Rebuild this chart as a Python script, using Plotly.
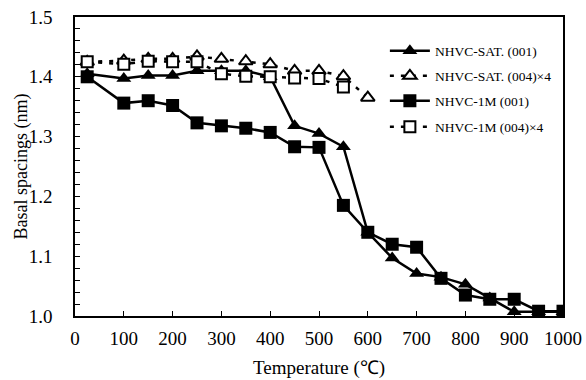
import plotly.graph_objects as go

temps = [25, 100, 150, 200, 250, 300, 350, 400, 450, 500, 550, 600, 650, 700, 750, 800, 850, 900, 950, 1000]
sat_001 = [1.405, 1.397, 1.402, 1.402, 1.41, 1.41, 1.41, 1.40, 1.318, 1.305, 1.283, 1.14, 1.097, 1.071, 1.065, 1.053, 1.03, 1.007, 1.007, 1.007]
sat_004_t = [25, 100, 150, 200, 250, 300, 350, 400, 450, 500, 550, 600]
sat_004 = [1.425, 1.427, 1.43, 1.43, 1.434, 1.43, 1.426, 1.421, 1.41, 1.41, 1.401, 1.365]
m1_001 = [1.40, 1.356, 1.36, 1.352, 1.323, 1.318, 1.314, 1.307, 1.283, 1.282, 1.185, 1.14, 1.12, 1.115, 1.063, 1.035, 1.028, 1.028, 1.008, 1.008]
m1_004_t = [25, 100, 150, 200, 250, 300, 350, 400, 450, 500, 550]
m1_004 = [1.425, 1.421, 1.426, 1.425, 1.425, 1.405, 1.401, 1.40, 1.398, 1.397, 1.383]

names = ["NHVC-SAT. (001)", "NHVC-SAT. (004)×4", "NHVC-1M (001)", "NHVC-1M (004)×4"]
x_ticks = [0, 100, 200, 300, 400, 500, 600, 700, 800, 900, 1000]
y_ticks = [1.0, 1.1, 1.2, 1.3, 1.4, 1.5]

FONT = "Liberation Serif, Times New Roman, serif"

fig = go.Figure()
fig.add_trace(go.Scatter(x=temps, y=sat_001, name=names[0], mode="lines+markers",
                         legend="legend",
                         line=dict(color="black", width=2.5),
                         marker=dict(symbol="triangle-up", size=13, color="black")))
fig.add_trace(go.Scatter(x=sat_004_t, y=sat_004, name=names[1], mode="lines+markers",
                         legend="legend2",
                         line=dict(color="black", width=2.5, dash="4px,7px"),
                         marker=dict(symbol="triangle-up", size=12, color="white",
                                     line=dict(color="black", width=2))))
fig.add_trace(go.Scatter(x=temps, y=m1_001, name=names[2], mode="lines+markers",
                         legend="legend3",
                         line=dict(color="black", width=2.5),
                         marker=dict(symbol="square", size=13, color="black")))
fig.add_trace(go.Scatter(x=m1_004_t, y=m1_004, name=names[3], mode="lines+markers",
                         legend="legend4",
                         line=dict(color="black", width=2.5, dash="4px,7px"),
                         marker=dict(symbol="square", size=11, color="white",
                                     line=dict(color="black", width=2))))

# page coordinates of the plot area (body margin removed by post_script)
PLOT_LEFT, PLOT_RIGHT = 75, 563
PLOT_TOP, PLOT_BOTTOM = 17, 316
pw = PLOT_RIGHT - PLOT_LEFT
ph = PLOT_BOTTOM - PLOT_TOP


def leg(yc):
    return dict(x=0.635, y=1 - (yc - PLOT_TOP) / ph, xanchor="left", yanchor="middle",
                bgcolor="rgba(0,0,0,0)", font=dict(family=FONT, size=13.5),
                itemwidth=40)


fig.update_layout(
    width=586, height=380,
    margin=dict(l=PLOT_LEFT, r=586 - PLOT_RIGHT, t=PLOT_TOP, b=380 - PLOT_BOTTOM),
    paper_bgcolor="white", plot_bgcolor="white",
    font=dict(family=FONT, size=19, color="black"),
    showlegend=True,
    legend=leg(51),
    legend2=leg(76),
    legend3=leg(101),
    legend4=leg(127),
    xaxis=dict(range=[0, 1000], tickvals=x_ticks, ticks="inside", ticklen=5,
               tickcolor="black", showline=True, linecolor="black", linewidth=1.5,
               mirror=True, showgrid=False, zeroline=False, ticklabelstandoff=4,
               automargin=False, ticklabeloverflow="allow"),
    yaxis=dict(range=[1.0, 1.5], tickvals=y_ticks, tickformat=".1f", ticks="inside",
               ticklen=5, tickcolor="black", showline=True, linecolor="black",
               linewidth=1.5, mirror=True, showgrid=False, zeroline=False,
               ticklabelstandoff=17, automargin=False, ticklabeloverflow="allow",
               minor=dict(dtick=0.02, ticks="inside", ticklen=5, tickcolor="black")),
    annotations=[
        dict(text="Temperature (℃)", xref="paper", yref="paper", x=0.5,
             y=-(368 - PLOT_BOTTOM) / ph,
             xanchor="center", yanchor="middle", showarrow=False, font=dict(size=19)),
        dict(text="Basal spacings (nm)", xref="paper", yref="paper",
             x=-(PLOT_LEFT - 21) / pw, y=0.5,
             xanchor="center", yanchor="middle", textangle=-90, showarrow=False,
             font=dict(size=18)),
    ],
)

fig.write_html(
    "out.html",
    config={"displayModeBar": False},
    post_script="document.body.style.margin='0';document.documentElement.style.overflow='hidden';",
)
